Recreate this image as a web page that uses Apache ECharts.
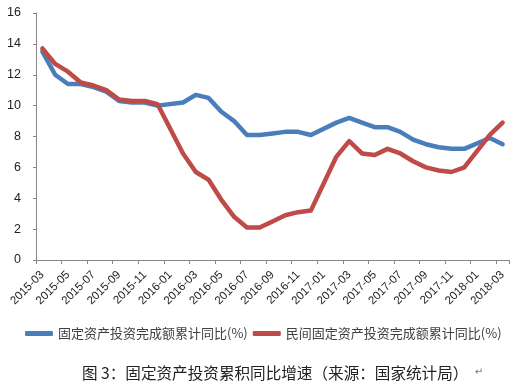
<!DOCTYPE html>
<html>
<head>
<meta charset="utf-8">
<script src="https://cdn.jsdelivr.net/npm/echarts@6/dist/echarts.min.js"></script>
<style>
html,body{margin:0;padding:0;background:#fff;}
#c{width:518px;height:383px;}
</style>
</head>
<body>
<div id="c"></div>
<script>
var months = ['2015-03','2015-04','2015-05','2015-06','2015-07','2015-08','2015-09','2015-10','2015-11','2015-12',
  '2016-01','2016-02','2016-03','2016-04','2016-05','2016-06','2016-07','2016-08','2016-09','2016-10','2016-11','2016-12',
  '2017-01','2017-02','2017-03','2017-04','2017-05','2017-06','2017-07','2017-08','2017-09','2017-10','2017-11','2017-12',
  '2018-01','2018-02','2018-03'];
var totalFAI = [13.5,12.0,11.4,11.4,11.2,10.9,10.3,10.2,10.2,10.0,
  null,10.2,10.7,10.5,9.6,9.0,8.1,8.1,8.2,8.3,8.3,8.1,
  null,8.9,9.2,8.9,8.6,8.6,8.3,7.8,7.5,7.3,7.2,7.2,
  null,7.9,7.5];
var privateFAI = [13.7,12.7,12.2,11.5,11.3,11.0,10.4,10.3,10.3,10.1,
  null,6.9,5.7,5.2,3.9,2.8,2.1,2.1,2.5,2.9,3.1,3.2,
  null,6.7,7.7,6.9,6.8,7.2,6.9,6.4,6.0,5.8,5.7,6.0,
  null,8.1,8.9];
var seriesNames = ['固定资产投资完成额累计同比(%)','民间固定资产投资完成额累计同比(%)'];
var yTicks = {min:0, max:16, interval:2};
var caption = '图 3：固定资产投资累积同比增速（来源：国家统计局）';

var chart = echarts.init(document.getElementById('c'), null, {renderer:'canvas'});
var axisColor = '#878787';
chart.setOption({
  animation:false,
  backgroundColor:'#fff',
  title:{
    text: caption + '{m|  ↵}',
    left:77, top:360,
    textStyle:{fontFamily:'Noto Sans CJK SC', fontSize:15.6, fontWeight:'normal', color:'#222',
      rich:{m:{fontSize:10, color:'#777', fontFamily:'DejaVu Sans'}}}
  },
  legend:{
    left:20, top:322,
    icon:'roundRect', itemWidth:28, itemHeight:5, itemGap:5,
    textStyle:{fontFamily:'Noto Sans CJK SC', fontSize:13, color:'#404040'},
    data:seriesNames
  },
  grid:{left:36, right:9, top:13, bottom:123, containLabel:false},
  xAxis:{
    type:'category', data:months, boundaryGap:true,
    axisLine:{lineStyle:{color:axisColor, width:1}},
    axisTick:{show:true, interval:1, length:4, lineStyle:{color:axisColor}},
    axisLabel:{interval:1, rotate:45, margin:13, fontFamily:'Liberation Sans', fontSize:11.5, color:'#222'},
    splitLine:{show:false}
  },
  yAxis:{
    type:'value', min:yTicks.min, max:yTicks.max, interval:yTicks.interval,
    axisLine:{show:true, lineStyle:{color:axisColor, width:1}},
    axisTick:{show:true, length:3, lineStyle:{color:axisColor}},
    axisLabel:{margin:15, fontFamily:'Liberation Sans', fontSize:12.5, color:'#222'},
    splitLine:{show:false}
  },
  series:[
    {name:seriesNames[0], type:'line', data:totalFAI, connectNulls:true, showSymbol:false, symbol:'none',
     lineStyle:{color:'#4A7EBB', width:4.5, join:'round', cap:'round'}, itemStyle:{color:'#4A7EBB'}},
    {name:seriesNames[1], type:'line', data:privateFAI, connectNulls:true, showSymbol:false, symbol:'none',
     lineStyle:{color:'#BE4B48', width:4.5, join:'round', cap:'round'}, itemStyle:{color:'#BE4B48'}}
  ]
});
</script>
</body>
</html>
